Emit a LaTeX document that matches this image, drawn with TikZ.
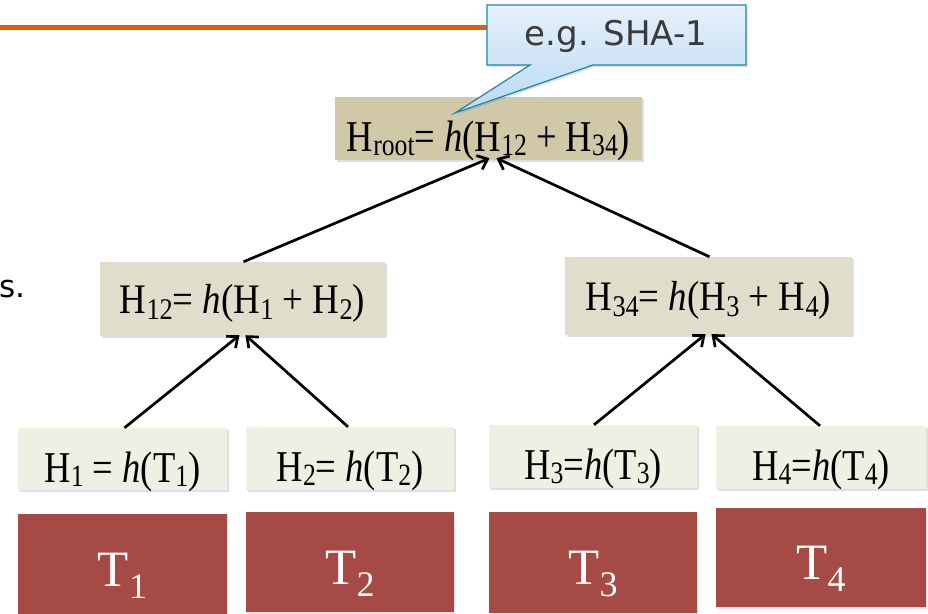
\documentclass[tikz,border=0pt]{standalone}
\usepackage{fontspec}
\usepackage{graphicx}
\setmainfont{Liberation Serif}
\newfontfamily\calfont{DejaVu Sans}
\usetikzlibrary{arrows.meta,shadows}
\definecolor{orangeline}{RGB}{217,96,20}
\definecolor{rootfill}{RGB}{208,200,167}
\definecolor{midfill}{RGB}{224,221,203}
\definecolor{leaffill}{RGB}{238,240,228}
\definecolor{tfill}{RGB}{166,74,69}
\definecolor{calborder}{RGB}{30,135,165}
\definecolor{caltop}{RGB}{228,240,250}
\definecolor{calbot}{RGB}{186,218,242}
\definecolor{caltext}{RGB}{58,58,58}
% subscripts
\newcommand{\lsub}[1]{\raisebox{-4pt}{\fontsize{31}{31}\selectfont #1}}
\newcommand{\msub}[1]{\raisebox{-6pt}{\fontsize{30}{30}\selectfont #1}}
\newcommand{\tsub}[1]{\raisebox{-12pt}{\fontsize{36}{36}\selectfont #1}}
\newcommand{\lcond}[1]{\scalebox{0.83}[1]{#1}}
\newcommand{\mcond}[1]{\scalebox{0.88}[1]{#1}}
\begin{document}
\begin{tikzpicture}[x=1pt,y=-1pt,
  hbox/.style={rectangle, inner sep=0pt,
    drop shadow={shadow xshift=1.5pt, shadow yshift=-2pt, opacity=0.25}},
  rootbox/.style={hbox, fill=rootfill, font=\fontsize{44}{46}\selectfont,
    text height=47pt, text depth=2pt},
  midbox/.style={hbox, fill=midfill, font=\fontsize{42}{44}\selectfont,
    text height=30pt, text depth=2pt},
  leafbox/.style={hbox, fill=leaffill, font=\fontsize{44}{46}\selectfont,
    text height=48pt, text depth=2pt},
  tbox/.style={rectangle, inner sep=0pt, fill=tfill, text=white,
    font=\fontsize{51}{53}\selectfont, text height=46pt, text depth=2pt,
    drop shadow={shadow xshift=1pt, shadow yshift=-1.5pt, opacity=0.2}},
  conn/.style={line width=2.7pt, -{Straight Barb[length=9pt,width=15pt,line width=2.7pt]}}
]
\useasboundingbox (0,0) rectangle (928,613);
% orange rule
\coordinate (o) at (0,27);
\coordinate (cw) at (487,27);
\draw[orangeline, line width=5pt] (o) -- (cw);
% partial text at left
\node[anchor=base west, inner sep=0pt, font=\calfont\fontsize{31}{33}\selectfont] (s) at (-1,297) {s.};
% tree nodes
\node[rootbox, minimum width=307pt, minimum height=63pt] (root) at (488.5,128.5)
  {\lcond{H\lsub{root}= \textit{h}(H\lsub{12} + H\lsub{34})}};
\node[midbox, minimum width=285pt, minimum height=74pt] (h12) at (242.5,299)
  {\mcond{H\msub{12}= \textit{h}(H\msub{1} + H\msub{2})}};
\node[midbox, minimum width=287pt, minimum height=78pt] (h34) at (708.5,296)
  {\mcond{H\msub{34}= \textit{h}(H\msub{3} + H\msub{4})}};
\node[leafbox, minimum width=209pt, minimum height=62pt] (h1) at (122.5,459)
  {\lcond{H\lsub{1} = \textit{h}(T\lsub{1})}};
\node[leafbox, minimum width=208pt, minimum height=63pt] (h2) at (350,458.5)
  {\lcond{H\lsub{2}= \textit{h}(T\lsub{2})}};
\node[leafbox, minimum width=208pt, minimum height=63pt] (h3) at (593,456.5)
  {\lcond{H\lsub{3}=\textit{h}(T\lsub{3})}};
\node[leafbox, minimum width=210pt, minimum height=63pt] (h4) at (821,457.5)
  {\lcond{H\lsub{4}=\textit{h}(T\lsub{4})}};
% transaction blocks
\node[tbox, minimum width=209pt, minimum height=100pt] (t1) at (122.5,564) {T\tsub{1}};
\node[tbox, minimum width=208pt, minimum height=100pt] (t2) at (350,562) {T\tsub{2}};
\node[tbox, minimum width=208pt, minimum height=101pt] (t3) at (593,562.5) {T\tsub{3}};
\node[tbox, minimum width=210pt, minimum height=99pt] (t4) at (821,557.5) {T\tsub{4}};
% connectors
\draw[conn] ([xshift=2pt]h1.north) -- ([xshift=-3pt,yshift=1pt]h12.south);
\draw[conn] ([xshift=-2pt]h2.north) -- ([xshift=3pt,yshift=1pt]h12.south);
\draw[conn] ([xshift=1pt]h3.north) -- ([xshift=-3pt,yshift=1pt]h34.south);
\draw[conn] ([xshift=-1pt]h4.north) -- ([xshift=3pt,yshift=1pt]h34.south);
\draw[conn] ([xshift=1pt]h12.north) -- ([xshift=1pt,yshift=2pt]root.south);
\draw[conn] ([xshift=1pt]h34.north) -- ([xshift=8pt,yshift=2pt]root.south);
% callout
\coordinate (tip) at (455,113);
\draw[calborder, line width=1.2pt, top color=caltop, bottom color=calbot,
  drop shadow={shadow xshift=1.5pt, shadow yshift=-2pt, opacity=0.25}]
  (487,5) -- (746,5) -- (746,65) -- (593,65) -- (tip) -- (530,65) -- (487,65) -- cycle;
\node[inner sep=0pt, text=caltext, font=\calfont\fontsize{34}{36}\selectfont] (cal) at (616,36) {e.g. SHA-1};
\end{tikzpicture}
\end{document}
